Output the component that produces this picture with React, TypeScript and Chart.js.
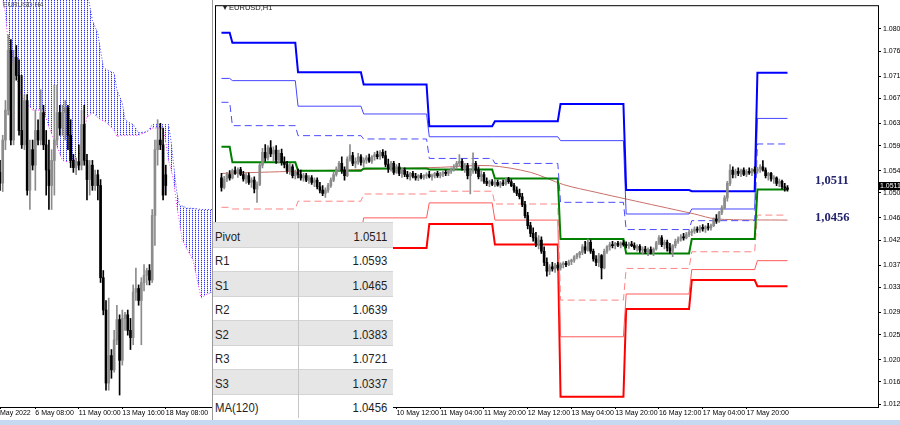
import { useEffect, useRef } from 'react';
import { Chart, registerables } from 'chart.js';

Chart.register(...registerables);

const FONT = '"Liberation Sans", Arial, sans-serif';

// EURUSD H1, one bar per hour, weekend skipped. bar 66 = 10 May 12:00
// values are pips above 1.0300: [open, high, low, close]
const H1_FIRST = 2;
const H1_BARS = [
  [232,240,208,215],[215,235,212,230],[230,242,225,238],[238,245,228,232],[232,248,230,245],[245,252,238,240],[240,250,233,247],[247,251,236,238],
  [238,244,226,230],[230,240,222,236],[236,241,220,224],[224,232,215,228],[228,234,205,212],[212,225,188,220],[220,258,218,255],[255,285,250,278],
  [278,292,262,268],[268,290,264,286],[286,299,270,275],[275,288,262,282],[282,290,258,264],[264,282,260,276],[276,284,255,260],[260,270,250,256],
  [256,262,240,245],[245,258,238,252],[252,256,232,236],[236,246,230,242],[242,248,232,238],[238,246,228,232],[232,240,226,236],[236,240,225,228],
  [228,236,222,232],[232,236,220,224],[224,232,216,228],[228,232,212,216],[216,224,205,210],[210,218,200,204],[204,214,197,210],[210,222,206,218],
  [218,232,215,228],[228,242,225,238],[238,252,235,248],[248,262,244,258],[258,270,240,246],[246,252,228,236],[236,270,234,266],[266,292,262,272],
  [272,278,254,258],[258,268,250,262],[262,276,256,270],[270,274,255,260],[260,268,252,264],[264,272,258,268],[268,275,260,262],[262,272,258,270],
  [270,278,264,274],[274,280,266,270],[270,281,265,278],[278,283,268,272],[272,280,252,256],[256,266,242,248],[248,262,244,258],[258,262,238,242],
  [242,256,240,252],[252,258,236,240],[240,250,233,246],[246,250,234,238],[238,244,230,234],[234,242,228,240],[240,244,232,235],[235,240,228,232],
  [232,238,227,236],[236,240,230,233],[233,238,229,236],[236,241,231,238],[238,244,232,234],[234,239,228,236],[236,242,232,240],[240,244,233,236],
  [236,242,232,239],[239,244,234,242],[242,246,236,240],[240,246,236,244],[244,250,240,248],[248,256,244,252],[252,262,248,258],[258,274,254,262],
  [262,266,246,250],[250,258,242,254],[254,258,230,236],[236,248,203,244],[244,277,240,258],[258,262,240,246],[246,252,230,234],[234,244,226,238],
  [238,242,222,226],[226,232,218,222],[222,228,216,225],[225,229,218,220],[220,228,216,224],[224,228,217,219],[219,226,215,223],[223,228,218,221],
  [221,232,219,229],[229,233,222,225],[225,229,216,218],[218,222,206,210],[210,216,200,204],[204,212,194,198],[198,204,180,184],[184,190,160,164],
  [164,170,140,146],[146,152,126,132],[132,142,118,124],[124,134,108,114],[114,128,104,120],[120,126,96,100],[100,108,74,80],[80,88,55,64],
  [64,76,58,72],[72,80,64,68],[68,78,62,75],[75,80,66,70],[70,79,66,76],[76,81,70,78],[78,82,72,76],[76,84,74,81],
  [81,86,76,84],[84,92,80,90],[90,96,86,94],[94,100,88,98],[98,112,94,108],[108,118,96,102],[102,122,100,116],[116,120,96,100],
  [100,104,82,86],[86,92,74,80],[80,96,72,92],[92,94,50,70],[70,104,68,100],[100,110,96,108],[108,116,102,112],[112,118,106,110],
  [110,116,104,114],[114,118,108,111],[111,117,106,115],[115,119,109,112],[112,117,106,110],[110,116,105,113],[113,118,108,110],[110,115,103,106],
  [106,112,100,109],[109,112,98,102],[102,108,95,104],[104,109,96,99],[99,106,92,103],[103,108,95,98],[98,106,92,104],[104,118,102,115],
  [115,128,112,124],[124,128,108,112],[112,120,104,116],[116,120,100,106],[106,114,96,100],[100,112,90,110],[110,122,106,118],[118,126,114,122],
  [122,130,118,126],[126,132,120,124],[124,134,122,130],[130,138,126,134],[134,140,128,136],[136,144,132,140],[140,144,134,138],[138,146,134,143],
  [143,148,136,140],[140,146,134,144],[144,150,138,142],[142,149,138,146],[146,160,144,158],[158,166,150,154],[154,172,152,170],[170,182,166,178],
  [178,200,176,196],[196,226,190,222],[222,256,218,246],[246,252,232,238],[238,248,232,244],[244,250,236,240],[240,248,234,246],[246,250,236,238],
  [238,247,234,244],[244,250,238,241],[241,249,236,247],[247,252,240,244],[244,251,240,248],[248,256,242,252],[252,263,244,246],[246,250,232,236],
  [236,242,228,240],[240,242,226,230],[230,236,222,232],[232,234,218,222],[222,230,216,226],[226,228,212,216],[216,222,208,214],[214,218,208,211]
];

// daily pivot levels, one value per day, each day starts at DAY_START bar
const DAY_START = [2, 6, 30, 54, 78, 102, 126, 150, 174, 198];
const LAST_BAR = 209;
const R3 = [1.0793, 1.0775, 1.0722, 1.0700, 1.0625, 1.0634, 1.0665, 1.0510, 1.0508, 1.0721];
const R2 = [1.0711, 1.0707, 1.0661, 1.0647, 1.0606, 1.0606, 1.0599, 1.0467, 1.0476, 1.0639];
const R1 = [1.0668, 1.0626, 1.0608, 1.0602, 1.0567, 1.0558, 1.0488, 1.0439, 1.0455, 1.0593];
const PIVOT = [1.0588, 1.0560, 1.0545, 1.0549, 1.0547, 1.0531, 1.0422, 1.0396, 1.0422, 1.0511];
const S1 = [1.0479, 1.0476, 1.0490, 1.0503, 1.0508, 1.0485, 1.0312, 1.0369, 1.0399, 1.0465];
const S2 = [1.0426, 1.0399, 1.0431, 1.0460, 1.0487, 1.0456, 1.0246, 1.0323, 1.0367, 1.0383];
const S3 = [1.0364, 1.0355, 1.0381, 1.0406, 1.0449, 1.0412, 1.0138, 1.0296, 1.0348, 1.0337];

const MA_BAR = [2, 30, 53, 82, 100, 115, 127, 139, 162, 175, 183, 209];
const MA_VAL = [1.0540, 1.0544, 1.0547, 1.0551, 1.0554, 1.0542, 1.0520, 1.0506, 1.0481, 1.0467, 1.0458, 1.0456];

const H1_TICKS = [66, 82, 98, 114, 130, 146, 162, 178, 194];
const H1_LABELS = ['10 May 12:00', '11 May 04:00', '11 May 20:00', '12 May 12:00', '13 May 04:00', '13 May 20:00', '16 May 12:00', '17 May 04:00', '17 May 20:00'];
const PRICE_TICKS = [1.08, 1.076, 1.0715, 1.0675, 1.063, 1.059, 1.0545, 1.0505, 1.046, 1.042, 1.0375, 1.0335, 1.029, 1.025, 1.0205, 1.0165, 1.0125];

// EURUSD H4 (left window), same pip units
const H4_BARS = [
  [236,246,221,227],[227,267,220,263],[263,296,255,288],[288,351,284,338],[338,347,259,263],[263,338,259,332],[332,342,313,317],[317,330,267,271],
  [271,317,256,259],[259,301,255,296],[296,301,217,221],[221,263,205,255],[255,263,238,242],[242,288,221,271],[271,280,259,263],[263,305,259,286],
  [286,292,255,259],[259,271,217,238],[238,263,205,225],[225,255,205,246],[246,309,217,263],[263,309,259,286],[286,292,267,273],[273,292,267,286],
  [286,296,263,290],[290,292,255,267],[267,280,240,246],[246,251,236,240],[240,248,234,245],[245,259,238,242],[242,288,238,276],[276,292,242,246],
  [246,251,213,230],[230,246,217,242],[242,246,221,225],[225,238,221,234],[234,238,213,225],[225,230,144,148],[148,154,117,121],[121,129,54,60],
  [60,131,54,83],[83,88,64,71],[71,104,69,96],[96,125,92,113],[113,117,50,79],[79,121,75,114],[114,119,104,117],[117,121,100,104],
  [104,114,88,98],[98,142,92,136],[136,156,129,139],[139,142,125,129],[129,148,92,144],[144,159,137,150],[150,156,142,154],[154,159,142,146],
  [146,205,144,200],[200,263,175,255],[255,280,242,263],[263,277,255,259],[259,273,213,217],[234,242,217,225]
];
const CLOUD_BAR = [0,1,2,3,4,8,12,16,18,23,26,29,32,34,36,37,38,39,42,43,45,46,48,49,51,54,55,56,58,60,61,62,63,64,65,66,67,69,71,74,76,78];
const CLOUD_TOP = [388,388,388,388,388,388,388,388,388,388,388,388,388,363,352,338,324,322,319,305,294,280,277,276,269,270,272,276,276,276,276,276,261,240,220,209,208,206,206,205,205,205];
const CLOUD_BOTTOM = [383,380,369,344,332,299,288,288,274,246,244,249,282,286,282,280,279,278,271,266,267,267,267,267,267,270,271,273,273,273,261,246,238,227,209,195,180,171,163,131,134,136];
const H4_TICKS = [0, 13, 29, 45, 61];
const H4_LABELS = ['May 2022', '6 May 08:00', '11 May 00:00', '13 May 16:00', '18 May 08:00'];

const TABLE_ROWS = [
  ['Pivot', '1.0511'], ['R1', '1.0593'], ['S1', '1.0465'], ['R2', '1.0639'],
  ['S2', '1.0383'], ['R3', '1.0721'], ['S3', '1.0337'], ['MA(120)', '1.0456']
];

const pip = (v: number) => 1.03 + v / 10000;

function candleSets(bars: number[][], first: number) {
  const colors = bars.map((b) => (b[3] >= b[0] ? '#8c8c8c' : '#000000'));
  return [
    {
      type: 'bar',
      data: bars.map((b, k) => ({ x: first + k, y: [pip(b[2]), pip(b[1])] })),
      backgroundColor: colors,
      barThickness: 1,
      grouped: false,
      order: 0
    },
    {
      type: 'bar',
      data: bars.map((b, k) => ({ x: first + k, y: [pip(b[0]), pip(b[3])] })),
      backgroundColor: colors,
      barThickness: 2,
      grouped: false,
      order: 0
    }
  ];
}

function steps(vals: number[]) {
  const pts: { x: number; y: number }[] = [];
  vals.forEach((v, d) => {
    const end = d < vals.length - 1 ? DAY_START[d + 1] - 1 : LAST_BAR;
    pts.push({ x: DAY_START[d], y: v }, { x: end, y: v });
  });
  return pts;
}

function level(vals: number[], color: string, width: number, dash: number[] = []) {
  return {
    type: 'line',
    data: steps(vals),
    borderColor: color,
    borderWidth: width,
    borderDash: dash,
    pointRadius: 0,
    tension: 0,
    fill: false,
    order: 1
  };
}

const framePlugin = {
  id: 'frame',
  afterDraw(chart: any) {
    const { ctx, chartArea: a } = chart;
    ctx.save();
    ctx.strokeStyle = '#000';
    ctx.lineWidth = 1;
    ctx.strokeRect(a.left - 0.5, a.top - 0.5, a.right - a.left + 1, a.bottom - a.top + 1);
    ctx.restore();
  }
};

const axisFont = { size: 7, family: FONT };

export default function App() {
  const h4Ref = useRef<HTMLCanvasElement | null>(null);
  const h1Ref = useRef<HTMLCanvasElement | null>(null);

  useEffect(() => {
    document.body.style.margin = '0';
    let h4Chart: Chart | null = null;
    let h1Chart: Chart | null = null;

    if (h4Ref.current) {
      // dotted cloud hatch
      const pc = document.createElement('canvas');
      pc.width = 3;
      pc.height = 2;
      const g = pc.getContext('2d')!;
      g.fillStyle = '#3030ff';
      g.fillRect(0, 0, 1, 1);
      g.fillStyle = 'rgba(90,90,255,0.35)';
      g.fillRect(0, 1, 1, 1);
      const dots = g.createPattern(pc, 'repeat');

      h4Chart = new Chart(h4Ref.current, {
        type: 'bar',
        data: {
          datasets: [
            {
              // lower edge: hatch everything above it
              type: 'line',
              data: CLOUD_BAR.map((x, k) => ({ x, y: pip(CLOUD_BOTTOM[k]) })),
              borderColor: '#ff33ff',
              borderWidth: 1,
              borderDash: [1, 2],
              pointRadius: 0,
              fill: 'end',
              backgroundColor: dots,
              order: 3
            },
            {
              // upper edge: wipe the hatch above it
              type: 'line',
              data: CLOUD_BAR.map((x, k) => ({ x, y: pip(CLOUD_TOP[k]) })),
              borderColor: '#3c3cff',
              borderWidth: 1,
              borderDash: [1, 2],
              pointRadius: 0,
              fill: 'end',
              backgroundColor: '#ffffff',
              order: 2
            },
            ...candleSets(H4_BARS, 0)
          ] as any
        },
        options: {
          animation: false,
          responsive: true,
          maintainAspectRatio: false,
          events: [],
          layout: { padding: 0 },
          plugins: { legend: { display: false }, tooltip: { enabled: false } },
          scales: {
            x: {
              type: 'linear',
              min: 0,
              max: 78,
              offset: false,
              grid: { drawOnChartArea: false, tickLength: 2, color: '#000', offset: false },
              border: { display: true, color: '#000' },
              ticks: {
                autoSkip: false,
                maxRotation: 0,
                align: 'start',
                padding: 0,
                font: axisFont,
                color: '#000',
                callback: (v: any) => H4_LABELS[H4_TICKS.indexOf(Number(v))] ?? ''
              },
              afterBuildTicks: (s: any) => {
                s.ticks = H4_TICKS.map((value) => ({ value }));
              },
              afterFit: (s: any) => {
                s.height = 13;
              }
            },
            y: { display: false, min: 1.034, max: 1.068 }
          }
        } as any
      });
    }

    if (h1Ref.current) {
      h1Chart = new Chart(h1Ref.current, {
        type: 'bar',
        data: {
          datasets: [
            level(R3, '#0000ff', 2),
            level(R2, '#4646ff', 1),
            level(R1, '#4b4bff', 1, [7, 4]),
            level(PIVOT, '#008000', 2),
            level(S1, '#ff8585', 1, [7, 4]),
            level(S2, '#ff5a5a', 1),
            level(S3, '#ff0000', 2),
            {
              type: 'line',
              data: MA_BAR.map((x, k) => ({ x, y: MA_VAL[k] })),
              borderColor: '#c8706a',
              borderWidth: 1,
              pointRadius: 0,
              tension: 0.3,
              fill: false,
              order: 1
            },
            ...candleSets(H1_BARS, H1_FIRST)
          ] as any
        },
        options: {
          animation: false,
          responsive: true,
          maintainAspectRatio: false,
          events: [],
          layout: { padding: { left: 1, top: 2, right: 0, bottom: 0 } },
          plugins: { legend: { display: false }, tooltip: { enabled: false } },
          scales: {
            x: {
              type: 'linear',
              min: 0,
              max: 242.1,
              offset: false,
              grid: { drawOnChartArea: false, tickLength: 2, color: '#000', offset: false },
              border: { display: false },
              ticks: {
                autoSkip: false,
                maxRotation: 0,
                align: 'start',
                padding: 0,
                font: axisFont,
                color: '#000',
                callback: (v: any) => H1_LABELS[H1_TICKS.indexOf(Number(v))] ?? ''
              },
              afterBuildTicks: (s: any) => {
                s.ticks = H1_TICKS.map((value) => ({ value }));
              },
              afterFit: (s: any) => {
                s.height = 13;
              }
            },
            y: {
              position: 'right',
              min: 1.011965,
              max: 1.084096,
              grid: { drawOnChartArea: false, tickLength: 3, color: '#000' },
              border: { display: false },
              ticks: {
                autoSkip: false,
                padding: 2,
                font: axisFont,
                color: '#000',
                callback: (v: any) => Number(v).toFixed(4)
              },
              afterBuildTicks: (s: any) => {
                s.ticks = PRICE_TICKS.map((value) => ({ value }));
              },
              afterFit: (s: any) => {
                s.width = 22;
              }
            }
          }
        } as any,
        plugins: [framePlugin]
      });
    }

    return () => {
      if (h4Chart) h4Chart.destroy();
      if (h1Chart) h1Chart.destroy();
    };
  }, []);

  const squeeze = (origin: string) => ({ display: 'inline-block', transform: 'scaleX(0.84)', transformOrigin: origin });

  return (
    <div style={{ position: 'absolute', left: 0, top: 0, width: 900, height: 425, overflow: 'hidden', background: '#fff' }}>
      <div style={{ position: 'absolute', left: 0, top: 0, width: 212, height: 420 }}>
        <canvas ref={h4Ref}></canvas>
      </div>
      <div style={{ position: 'absolute', left: 212, top: 0, width: 1, height: 420, background: '#9a9a9a' }}></div>
      <div style={{ position: 'absolute', left: 215, top: 0, width: 685, height: 420 }}>
        <canvas ref={h1Ref}></canvas>
      </div>

      <div style={{ position: 'absolute', left: 3, top: 1, font: `7px ${FONT}`, color: '#555' }}>EURUSD,H4</div>
      <div style={{ position: 'absolute', left: 223, top: 3, font: `7.5px ${FONT}`, color: '#222' }}>▾ EURUSD,H1</div>

      <div style={{ position: 'absolute', left: 815, top: 174, font: `bold 12.5px "Liberation Serif", serif`, lineHeight: '13px', color: '#23236e' }}>1,0511</div>
      <div style={{ position: 'absolute', left: 815, top: 211, font: `bold 12.5px "Liberation Serif", serif`, lineHeight: '13px', color: '#23236e' }}>1,0456</div>

      <div style={{ position: 'absolute', left: 879, top: 182, width: 21, height: 8, background: '#000', color: '#fff', font: `7px ${FONT}`, lineHeight: '8px', paddingLeft: 1 }}>1.0511</div>

      <div style={{ position: 'absolute', left: 213, top: 222, width: 180, height: 196, background: '#fff', fontFamily: FONT, fontSize: 13.5, color: '#1e1e1e' }}>
        {TABLE_ROWS.map((r, k) => (
          <div key={r[0]} style={{ display: 'flex', height: 24.5, boxSizing: 'border-box', borderTop: '1px solid #d4d4d4', background: k % 2 === 0 ? '#e6e6e6' : '#ffffff', alignItems: 'center', paddingTop: 3 }}>
            <div style={{ width: 85, paddingLeft: 2 }}>
              <span style={squeeze('left')}>{r[0]}</span>
            </div>
            <div style={{ flex: 1, textAlign: 'right', paddingRight: 6 }}>
              <span style={squeeze('right')}>{r[1]}</span>
            </div>
          </div>
        ))}
        <div style={{ position: 'absolute', left: 85, top: 0, width: 1, height: 196, background: '#c6c6c6' }}></div>
      </div>

      <div style={{ position: 'absolute', left: 0, top: 420, width: 900, height: 5, background: '#c5daf0' }}></div>
    </div>
  );
}
